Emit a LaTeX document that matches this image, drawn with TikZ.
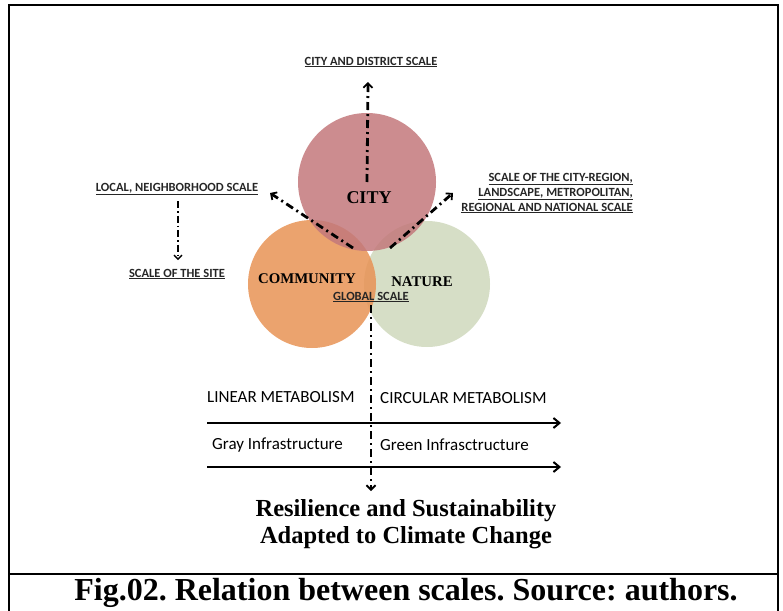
\documentclass[tikz,border=0pt]{standalone}
\usepackage{fontspec}
\setmainfont{Liberation Serif}
\newfontfamily\calfont{Carlito}
\usetikzlibrary{arrows.meta}
\definecolor{citycol}{RGB}{195,120,123}
\definecolor{commcol}{RGB}{232,147,85}
\definecolor{natcol}{RGB}{207,216,188}
\tikzset{
  blob/.style={circle, fill opacity=0.85, inner sep=0pt},
  lab/.style={font=\calfont\bfseries\fontsize{12.5}{15}\selectfont, inner sep=1pt, text=black!85},
  big/.style={font=\bfseries\fontsize{18}{20}\selectfont, inner sep=0pt},
  meta/.style={font=\calfont\fontsize{17}{19}\selectfont, inner sep=0pt},
  dd/.style={line width=2.8pt, dash pattern=on 8pt off 4pt on 2pt off 4pt},
  ddthin/.style={line width=1.6pt, dash pattern=on 7pt off 3pt on 1.5pt off 3pt},
  barb/.style={-{Straight Barb[length=4.5pt,width=9pt,line width=1.8pt]}},
  flow/.style={line width=2pt, -{Straight Barb[length=6pt,width=10pt,line width=2pt]}},
  frame/.style={line width=1.8pt}
}
\begin{document}
\frenchspacing
\begin{tikzpicture}[x=1pt,y=-1pt]
\useasboundingbox (0,0) rectangle (783,610);
% frame
\coordinate (ftl) at (9,5);
\coordinate (ftr) at (778,5);
\coordinate (fbl) at (9,611);
\coordinate (fbr) at (778,611);
\coordinate (sl) at (9,574);
\coordinate (sr) at (778,574);
\draw[frame] (fbl) -- (ftl) -- (ftr) -- (fbr);
\draw[frame] (sl) -- (sr);
% circles
\node[blob, fill=natcol, minimum size=126pt] (nature) at (427,284) {};
\node[blob, fill=commcol, minimum size=128pt] (community) at (312,284) {};
\node[blob, fill=citycol, minimum size=138pt] (city) at (367,182) {};
% circle labels
\node[big] (tcity) at (369,198) {CITY};
\node[big, font=\bfseries\fontsize{14.8}{16}\selectfont] (tcomm) at (307,279) {COMMUNITY};
\node[big, font=\bfseries\fontsize{14.8}{16}\selectfont] (tnat) at (422,282) {NATURE};
\node[lab] (global) at (371,297) {\underline{GLOBAL SCALE}};
% scale labels
\node[lab] (cityscale) at (371,62) {\underline{CITY AND DISTRICT SCALE}};
\node[lab] (local) at (177,189) {\underline{LOCAL, NEIGHBORHOOD SCALE}};
\node[lab] (site) at (177,274) {\underline{SCALE OF THE SITE}};
\node[lab, align=right, anchor=east] (region) at (634,193)
  {\underline{SCALE OF THE CITY-REGION,}\\\underline{LANDSCAPE, METROPOLITAN,}\\\underline{REGIONAL AND NATIONAL SCALE}};
% connector coordinates
\coordinate (upend) at (368,82);
\coordinate (lstart) at (353,248);
\coordinate (lend) at (270,193);
\coordinate (rstart) at (390,248);
\coordinate (rend) at (453,193);
\coordinate (localtop) at (178,201);
\coordinate (siteend) at (178,260);
\coordinate (gstart) at (371,305);
\coordinate (gend) at (371,491);
% dash-dot connectors
\draw[dd, barb] (city.center) -- (upend);
\draw[dd, barb] (lstart) -- (lend);
\draw[dd, barb] (rstart) -- (rend);
\draw[ddthin, -{Straight Barb[length=4pt,width=8pt,line width=1.4pt]}] (localtop) -- (siteend);
\draw[dd, barb] (gstart) -- (gend);
% flows
\coordinate (a1s) at (207,423);
\coordinate (a1e) at (561,423);
\coordinate (a2s) at (207,467);
\coordinate (a2e) at (561,467);
\draw[flow] (a1s) -- (a1e);
\draw[flow] (a2s) -- (a2e);
\node[meta, anchor=west] (linear) at (207,397) {LINEAR METABOLISM};
\node[meta, anchor=west] (circular) at (380,398) {CIRCULAR METABOLISM};
\node[meta, anchor=west] (gray) at (212,445) {Gray Infrastructure};
\node[meta, anchor=west] (green) at (380,445) {Green Infrasctructure};
% result
\node[big, font=\bfseries\fontsize{24.5}{27}\selectfont, align=center] (result) at (406,524)
  {Resilience and Sustainability\\Adapted to Climate Change};
% caption
\node[big, font=\bfseries\fontsize{32}{34}\selectfont] (caption) at (406,593) {Fig.02. Relation between scales. Source: authors.};
\end{tikzpicture}
\end{document}
